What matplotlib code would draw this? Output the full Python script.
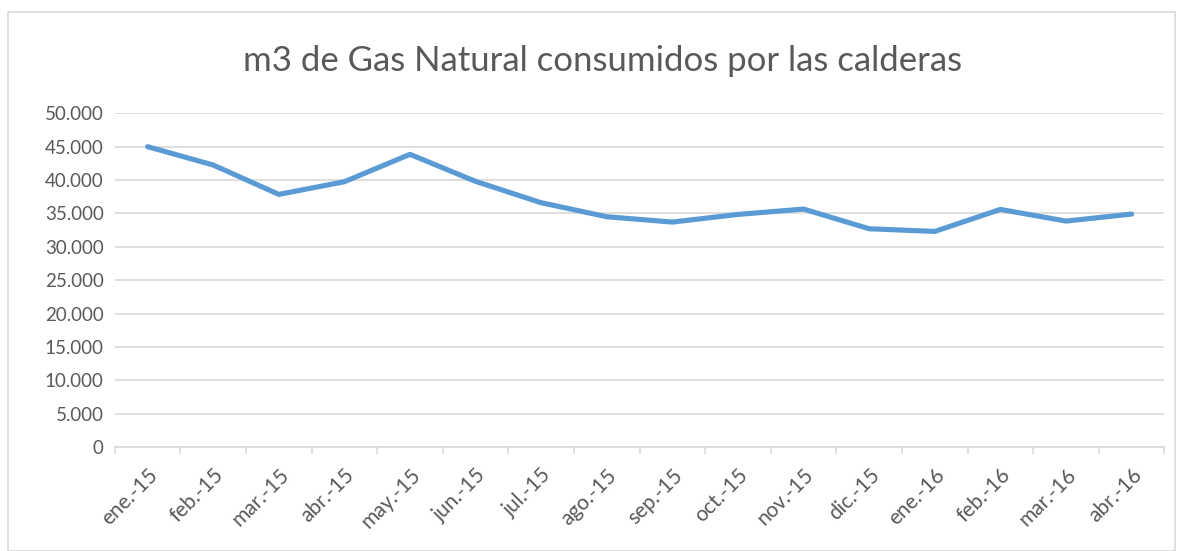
import numpy as np
import matplotlib.pyplot as plt
from matplotlib.patches import Rectangle
from matplotlib.ticker import FuncFormatter, FixedLocator

plt.rcParams['font.family'] = ['Lato', 'DejaVu Sans']

# monthly values
months = ['ene.-15', 'feb.-15', 'mar.-15', 'abr.-15', 'may.-15', 'jun.-15',
          'jul.-15', 'ago.-15', 'sep.-15', 'oct.-15', 'nov.-15', 'dic.-15',
          'ene.-16', 'feb.-16', 'mar.-16', 'abr.-16']
gas_m3 = [45000, 42250, 37850, 39750, 43850, 39800,
          36600, 34500, 33700, 34850, 35650, 32700,
          32300, 35600, 33850, 34900]

grey = '#595959'
grid = '#d9d9d9'

fig = plt.figure(figsize=(11.79, 5.51), dpi=100)
ax = fig.add_axes([114.8/1179, 1-447/551, (1164.4-114.8)/1179, (447-113.3)/551])

x = np.arange(len(months))
ax.plot(x, gas_m3, color='#5b9bd5', lw=3.7, solid_capstyle='round', solid_joinstyle='round', zorder=3)

ax.set_xlim(-0.5, len(months) - 0.5)
ax.set_ylim(0, 50000)
ax.set_yticks(np.arange(0, 50001, 5000))
ax.yaxis.set_major_formatter(FuncFormatter(lambda v, p: f'{int(v):,}'.replace(',', '.')))
ax.grid(axis='y', color=grid, lw=1.2)
ax.set_axisbelow(True)

# category labels at centres, tick marks at boundaries
ax.set_xticks(x)
ax.set_xticklabels(months, rotation=45, ha='right', rotation_mode='anchor')
ax.xaxis.set_minor_locator(FixedLocator(np.arange(-0.5, len(months), 1)))
ax.tick_params(axis='x', which='major', length=0, pad=13, labelsize=15, labelcolor=grey)
ax.tick_params(axis='x', which='minor', length=5, color=grid, width=1.2)
ax.tick_params(axis='y', length=0, pad=8, labelsize=13.5, labelcolor=grey)

for s in ['top', 'right', 'left']:
    ax.spines[s].set_visible(False)
ax.spines['bottom'].set_color(grid)
ax.spines['bottom'].set_linewidth(1.2)

fig.text(603/1179, 1-61/551, 'm3 de Gas Natural consumidos por las calderas',
         ha='center', va='center', fontsize=25, color=grey)

fig.patches.append(Rectangle((8/1179, 0), 1167/1179, (551-12)/551, transform=fig.transFigure,
                             fill=False, edgecolor=grid, lw=1.2))

fig.savefig('out.png', dpi=100)
